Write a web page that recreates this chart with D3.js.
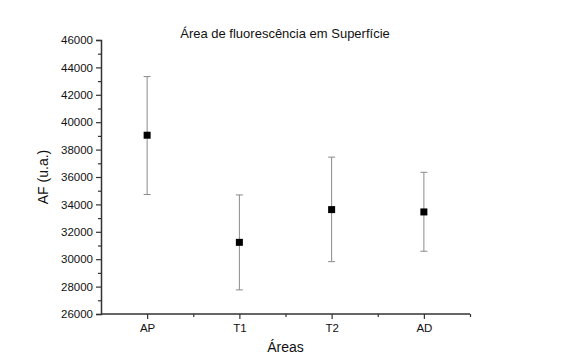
<!DOCTYPE html>
<html>
<head>
<meta charset="utf-8">
<script src="https://cdn.jsdelivr.net/npm/d3@7"></script>
<style>
  body { margin: 0; background: #fff; }
  svg { display: block; font-family: "Liberation Sans", Arial, sans-serif; }
</style>
</head>
<body>
<div id="chart"></div>
<script>
// Datos
const categorias = ['AP', 'T1', 'T2', 'AD'];
const medias = [39050, 31230, 33620, 33450];
const superior = [43330, 34690, 37450, 36340];
const inferior = [34720, 27760, 29820, 30580];
const ticksY = [26000, 28000, 30000, 32000, 34000, 36000, 38000, 40000, 42000, 44000, 46000];

const width = 572, height = 355;
const m = { left: 101, right: 102, top: 40, bottom: 41 };

const svg = d3.select('#chart').append('svg')
  .attr('width', width)
  .attr('height', height);

// Escalas
const x = d3.scaleLinear().domain([0.5, categorias.length + 0.5]).range([m.left, width - m.right]);
const y = d3.scaleLinear().domain([26000, 46000]).range([height - m.bottom, m.top]);

const colorEje = '#333';

// Eje Y con menores
const ejeYMenor = svg.append('g')
  .attr('transform', `translate(${m.left},0)`)
  .call(d3.axisLeft(y).tickValues(d3.range(27000, 46000, 2000)).tickSize(3).tickFormat(''));
const ejeY = svg.append('g')
  .attr('transform', `translate(${m.left},0)`)
  .call(d3.axisLeft(y).tickValues(ticksY).tickSize(5).tickPadding(3).tickFormat(d3.format('d')));

// Eje X con menores
const ejeXMenor = svg.append('g')
  .attr('transform', `translate(0,${height - m.bottom})`)
  .call(d3.axisBottom(x).tickValues([1.5, 2.5, 3.5, 4.5]).tickSize(3).tickFormat(''));
const ejeX = svg.append('g')
  .attr('transform', `translate(0,${height - m.bottom})`)
  .call(d3.axisBottom(x).tickValues([1, 2, 3, 4]).tickSize(5).tickPadding(5).tickFormat(d => categorias[d - 1]));

[ejeY, ejeX, ejeYMenor, ejeXMenor].forEach(g => {
  g.select('.domain').attr('stroke', colorEje).attr('stroke-width', 1.5);
  g.selectAll('.tick line').attr('stroke', colorEje).attr('stroke-width', 1.2);
  g.selectAll('.tick text').attr('fill', '#111').style('font-size', '11.5px');
});
ejeX.select('.domain').attr('d', `M${m.left},0H${width - m.right}`);
ejeXMenor.select('.domain').remove();
ejeYMenor.select('.domain').remove();

// Barras de error
const puntos = categorias.map((c, i) => ({ c, i: i + 1, v: medias[i], hi: superior[i], lo: inferior[i] }));
const barras = svg.append('g').attr('stroke', '#8a8a8a').attr('stroke-width', 1);
barras.selectAll('line.v').data(puntos).enter().append('line')
  .attr('x1', d => x(d.i)).attr('x2', d => x(d.i))
  .attr('y1', d => y(d.hi)).attr('y2', d => y(d.lo));
barras.selectAll('line.hi').data(puntos).enter().append('line')
  .attr('x1', d => x(d.i) - 3.5).attr('x2', d => x(d.i) + 3.5)
  .attr('y1', d => y(d.hi)).attr('y2', d => y(d.hi));
barras.selectAll('line.lo').data(puntos).enter().append('line')
  .attr('x1', d => x(d.i) - 3.5).attr('x2', d => x(d.i) + 3.5)
  .attr('y1', d => y(d.lo)).attr('y2', d => y(d.lo));

// Marcadores
svg.append('g').selectAll('rect').data(puntos).enter().append('rect')
  .attr('x', d => x(d.i) - 3.5).attr('y', d => y(d.v) - 3.5)
  .attr('width', 7).attr('height', 7)
  .attr('fill', '#000');

// Títulos
svg.append('text')
  .attr('x', 285).attr('y', 38)
  .attr('text-anchor', 'middle')
  .style('font-size', '13px')
  .attr('fill', '#111')
  .text('Área de fluorescência em Superfície');

svg.append('text')
  .attr('transform', `translate(48,${(m.top + height - m.bottom) / 2}) rotate(-90)`)
  .attr('text-anchor', 'middle')
  .style('font-size', '14px')
  .attr('fill', '#111')
  .text('AF (u.a.)');

svg.append('text')
  .attr('x', (m.left + width - m.right) / 2).attr('y', 352)
  .attr('text-anchor', 'middle')
  .style('font-size', '14px')
  .attr('fill', '#111')
  .text('Áreas');
</script>
</body>
</html>
